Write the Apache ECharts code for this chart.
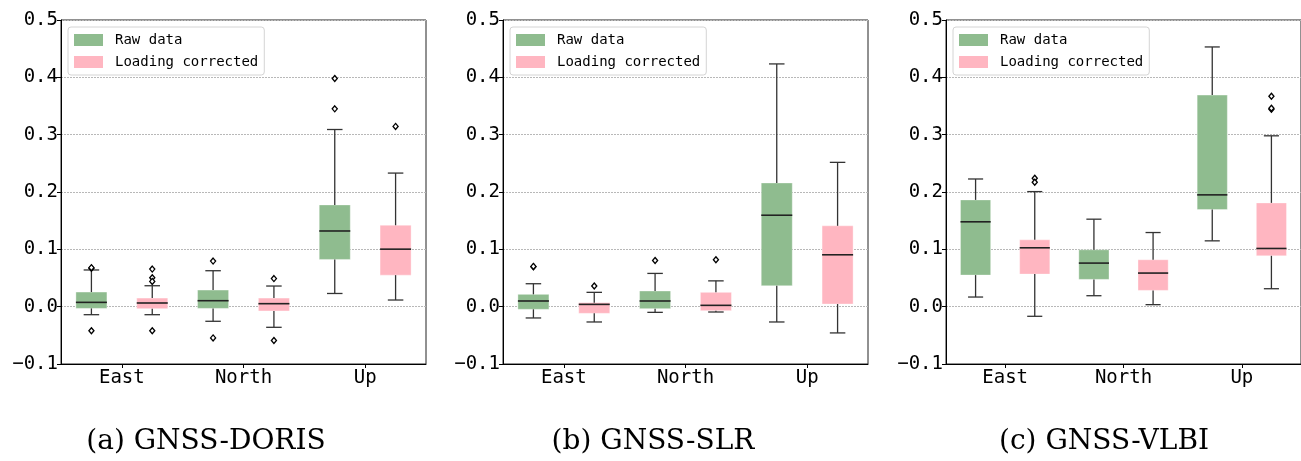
<!DOCTYPE html>
<html>
<head>
<meta charset="utf-8">
<script src="https://cdn.jsdelivr.net/npm/echarts@6/dist/echarts.min.js"></script>
<style>
html,body{margin:0;padding:0;background:#fff;}
#chart{width:1301px;height:461px;}
</style>
</head>
<body>
<div id="chart"></div>
<script>
// ---- data ----
const categories = ['East', 'North', 'Up'];
const yTicks = [-0.1, 0.0, 0.1, 0.2, 0.3, 0.4, 0.5];
const seriesNames = ['Raw data', 'Loading corrected'];
const captions = ['(a) GNSS-DORIS', '(b) GNSS-SLR', '(c) GNSS-VLBI'];

// each box: [min, q1, median, q3, max]
const dorisRaw  = [[-0.014, -0.003, 0.0075, 0.0255, 0.064], [-0.0255, -0.003, 0.0104, 0.029, 0.0627], [0.023, 0.0824, 0.132, 0.1775, 0.309]];
const dorisCorr = [[-0.014, -0.0035, 0.0064, 0.015, 0.0365], [-0.036, -0.0075, 0.0052, 0.015, 0.036], [0.0116, 0.055, 0.1003, 0.142, 0.233]];
const dorisRawOut  = [[0, 0.067], [0, 0.068], [0, -0.042], [1, 0.0795], [1, -0.0545], [2, 0.398], [2, 0.345]];
const dorisCorrOut = [[0, 0.0655], [0, 0.0505], [0, 0.044], [0, -0.042], [1, 0.049], [1, -0.059], [2, 0.3144]];

const slrRaw  = [[-0.0197, -0.0046, 0.0099, 0.0215, 0.040], [-0.0099, -0.0035, 0.0099, 0.0273, 0.058], [-0.0267, 0.0365, 0.1595, 0.2158, 0.4234]];
const slrCorr = [[-0.0267, -0.0116, 0.004, 0.007, 0.025], [-0.0093, -0.007, 0.0023, 0.025, 0.045], [-0.0458, 0.0046, 0.0905, 0.141, 0.2517]];
const slrRawOut  = [[0, 0.0696], [0, 0.0702], [1, 0.0806]];
const slrCorrOut = [[0, 0.036], [1, 0.0818]];

const vlbiRaw  = [[0.0168, 0.0551, 0.148, 0.1862, 0.2227], [0.0191, 0.0476, 0.076, 0.0992, 0.1526], [0.1148, 0.1694, 0.195, 0.369, 0.453]];
const vlbiCorr = [[-0.0168, 0.0568, 0.1027, 0.1166, 0.2007], [0.0035, 0.0284, 0.0586, 0.0818, 0.1293], [0.0313, 0.0887, 0.1015, 0.181, 0.298]];
const vlbiRawOut  = [];
const vlbiCorrOut = [[0, 0.224], [0, 0.217], [2, 0.367], [2, 0.3445], [2, 0.346]];

const panels = [
  {raw: dorisRaw, corr: dorisCorr, rawOut: dorisRawOut, corrOut: dorisCorrOut},
  {raw: slrRaw, corr: slrCorr, rawOut: slrRawOut, corrOut: slrCorrOut},
  {raw: vlbiRaw, corr: vlbiCorr, rawOut: vlbiRawOut, corrOut: vlbiCorrOut}
];

// ---- styles ----
const colors = ['#8fbc8f', '#ffb6c1'];
const gridLefts = [61, 503, 946];
const gridTop = 20, gridW = 365, gridH = 344;
const captionX = [206, 653, 1104];
const mono = 'DejaVu Sans Mono';

function boxRender(side, color) {
  return function (params, api) {
    const c = api.value(0);
    const band = api.size([1, 0])[0];
    const w = band * 0.255;
    const x = api.coord([c, 0])[0] + side * band / 4;
    const yMin = api.coord([c, api.value(1)])[1];
    const yQ1 = api.coord([c, api.value(2)])[1];
    const yMed = api.coord([c, api.value(3)])[1];
    const yQ3 = api.coord([c, api.value(4)])[1];
    const yMax = api.coord([c, api.value(5)])[1];
    const ls = {stroke: '#333', lineWidth: 1.3};
    return {
      type: 'group',
      children: [
        {type: 'rect', shape: {x: x - w / 2, y: yQ3, width: w, height: yQ1 - yQ3}, style: {fill: color, stroke: 'rgba(255,255,255,0.35)', lineWidth: 1}},
        {type: 'line', shape: {x1: x, y1: yQ1, x2: x, y2: yMin}, style: ls},
        {type: 'line', shape: {x1: x, y1: yQ3, x2: x, y2: yMax}, style: ls},
        {type: 'line', shape: {x1: x - w / 4, y1: yMin, x2: x + w / 4, y2: yMin}, style: ls},
        {type: 'line', shape: {x1: x - w / 4, y1: yMax, x2: x + w / 4, y2: yMax}, style: ls},
        {type: 'line', shape: {x1: x - w / 2, y1: yMed, x2: x + w / 2, y2: yMed}, style: {stroke: '#222', lineWidth: 1.6}}
      ]
    };
  };
}

function outRender(side) {
  return function (params, api) {
    const c = api.value(0);
    const band = api.size([1, 0])[0];
    const p = api.coord([c, api.value(1)]);
    const x = p[0] + side * band / 4, y = p[1];
    const r = 3;
    return {
      type: 'polygon',
      shape: {points: [[x, y - r], [x + r * 0.85, y], [x, y + r], [x - r * 0.85, y]]},
      style: {fill: '#fff', stroke: '#000', lineWidth: 1.3}
    };
  };
}

const grids = [], xAxes = [], yAxes = [], series = [], legends = [], graphics = [];
panels.forEach(function (pn, i) {
  grids.push({left: gridLefts[i], top: gridTop, width: gridW, height: gridH, show: true, borderColor: '#222', borderWidth: 1, backgroundColor: 'transparent', containLabel: false});
  xAxes.push({
    type: 'category', gridIndex: i, data: categories, boundaryGap: true,
    axisLine: {show: true, onZero: false, lineStyle: {color: '#000', width: 1}},
    axisTick: {show: true, alignWithLabel: true, length: 4, lineStyle: {color: '#000'}},
    axisLabel: {fontFamily: mono, fontSize: 19, color: '#000', margin: 5},
    splitLine: {show: false}
  });
  yAxes.push({
    type: 'value', gridIndex: i, min: yTicks[0], max: yTicks[yTicks.length - 1], interval: 0.1,
    axisLine: {show: true, onZero: false, lineStyle: {color: '#000', width: 1}},
    axisTick: {show: true, length: 4, lineStyle: {color: '#000'}},
    axisLabel: {fontFamily: mono, fontSize: 19, color: '#000', margin: 3,
      formatter: function (v) { return v.toFixed(1).replace('-', '\u2212'); }},
    splitLine: {show: true, lineStyle: {color: '#b8b8b8', type: [2, 1], width: 1}}
  });
  [[pn.raw, pn.rawOut, -1], [pn.corr, pn.corrOut, 1]].forEach(function (g, k) {
    series.push({
      type: 'custom', name: seriesNames[k], xAxisIndex: i, yAxisIndex: i,
      itemStyle: {color: colors[k]},
      renderItem: boxRender(g[2], colors[k]),
      encode: {x: 0, y: [1, 2, 3, 4, 5]},
      data: g[0].map(function (b, ci) { return [ci].concat(b); }),
      z: 3
    });
    series.push({
      type: 'custom', name: seriesNames[k] + ' outliers', xAxisIndex: i, yAxisIndex: i,
      itemStyle: {color: '#000'},
      renderItem: outRender(g[2]),
      encode: {x: 0, y: 1},
      data: g[1],
      z: 4
    });
  });
  legends.push({
    left: gridLefts[i] + 7, top: gridTop + 7, orient: 'vertical',
    data: seriesNames.map(function (n) { return {name: n, icon: 'rect'}; }),
    itemWidth: 29, itemHeight: 12, itemGap: 8,
    padding: [6, 6, 6, 6],
    backgroundColor: 'rgba(255,255,255,0.85)', borderColor: '#d4d4d4', borderWidth: 1, borderRadius: 3,
    textStyle: {fontFamily: mono, fontSize: 14, color: '#000', padding: [0, 0, 0, 7]},
    selectedMode: false, z: 10
  });
  graphics.push({
    type: 'text', x: captionX[i], y: 442,
    style: {text: captions[i], font: '28px "DejaVu Serif"', fill: '#000', textAlign: 'center', textVerticalAlign: 'middle'}
  });
});

const chart = echarts.init(document.getElementById('chart'), null, {renderer: 'canvas'});
chart.setOption({
  animation: false,
  backgroundColor: '#fff',
  grid: grids, xAxis: xAxes, yAxis: yAxes, series: series, legend: legends,
  graphic: graphics
});
</script>
</body>
</html>
